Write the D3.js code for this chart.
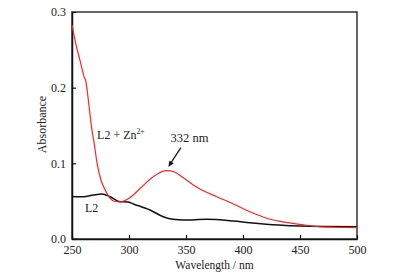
<!DOCTYPE html>
<html>
<head>
<meta charset="utf-8">
<script src="https://cdn.jsdelivr.net/npm/d3@7"></script>
<style>
  body { margin: 0; background: #fff; }
  text { font-family: 'Liberation Serif', 'DejaVu Serif', serif; fill: #222; }
</style>
</head>
<body>
<svg width="394" height="280"></svg>
<script>
// L2 + Zn2+ spectrum (wavelength nm, absorbance)
const redWl = [250, 253.5, 257, 260.5, 262.3, 264, 265.8, 267.5, 269.3, 272, 275.4, 279, 283.3, 287.7, 292, 301, 310, 318.4, 325, 333, 340, 347, 356.4, 365.2, 377, 391.5, 406, 420.8, 432.5, 450, 464.6, 479, 500];
const redAbs = [0.283, 0.257, 0.236, 0.215, 0.207, 0.188, 0.164, 0.144, 0.128, 0.100, 0.078, 0.065, 0.054, 0.0496, 0.049, 0.055, 0.067, 0.079, 0.086, 0.0903, 0.0885, 0.0815, 0.0715, 0.0638, 0.0559, 0.0463, 0.0361, 0.0274, 0.0232, 0.0194, 0.0165, 0.0155, 0.015];

// L2 alone
const blackWl = [250, 259.9, 268.7, 276, 283.3, 292, 299, 303.8, 318.4, 330, 338.9, 347.6, 368, 391.5, 406, 431, 450, 500];
const blackAbs = [0.0563, 0.0559, 0.0581, 0.0595, 0.0559, 0.0493, 0.049, 0.0463, 0.0383, 0.0295, 0.026, 0.0251, 0.026, 0.0238, 0.0216, 0.0185, 0.0172, 0.0163];

const xTicks = [250, 300, 350, 400, 450, 500];
const yTicks = [0, 0.1, 0.2, 0.3];

const svg = d3.select('svg');
const margin = {top: 12, right: 37, bottom: 41, left: 72};
const width = +svg.attr('width');
const height = +svg.attr('height');
const innerWidth = width - margin.left - margin.right;
const innerHeight = height - margin.top - margin.bottom;

const xScale = d3.scaleLinear().domain([250, 500]).range([0, innerWidth]);
const yScale = d3.scaleLinear().domain([0, 0.3]).range([innerHeight, 0]);

const g = svg.append('g')
    .attr('transform', `translate(${margin.left},${margin.top})`);

// frame
g.append('rect')
    .attr('width', innerWidth)
    .attr('height', innerHeight)
    .attr('fill', 'none')
    .attr('stroke', '#333')
    .attr('stroke-width', 1.5);

const xAxis = d3.axisBottom(xScale)
    .tickValues(xTicks)
    .tickFormat(d3.format('d'))
    .tickSizeInner(-4)
    .tickSizeOuter(0)
    .tickPadding(6);

const xAxisG = g.append('g')
    .attr('transform', `translate(0,${innerHeight})`)
    .call(xAxis);
xAxisG.select('.domain').attr('stroke', '#111').attr('stroke-width', 1.5);
xAxisG.selectAll('.tick line').attr('stroke', '#111').attr('stroke-width', 1.2);
xAxisG.selectAll('text').attr('font-size', 12).attr('font-family', 'Liberation Serif').attr('fill', '#222');

const yAxis = d3.axisLeft(yScale)
    .tickValues(yTicks)
    .tickFormat(d3.format('.1f'))
    .tickSizeInner(-4)
    .tickSizeOuter(0)
    .tickPadding(6);

const yAxisG = g.append('g').call(yAxis);
yAxisG.select('.domain').attr('stroke', '#111').attr('stroke-width', 1.5);
yAxisG.selectAll('.tick line').attr('stroke', '#111').attr('stroke-width', 1.2);
yAxisG.selectAll('text').attr('font-size', 12).attr('font-family', 'Liberation Serif').attr('fill', '#222');

// axis titles
g.append('text')
    .attr('x', innerWidth / 2)
    .attr('y', innerHeight + 30)
    .attr('text-anchor', 'middle')
    .attr('font-size', 11.5)
    .text('Wavelength / nm');

g.append('text')
    .attr('transform', `translate(-26,${innerHeight / 2 - 1}) rotate(-90)`)
    .attr('text-anchor', 'middle')
    .attr('font-size', 12)
    .text('Absorbance');

const line = d3.line()
    .x(d => xScale(d[0]))
    .y(d => yScale(d[1]))
    .curve(d3.curveMonotoneX);

g.append('path')
    .datum(blackWl.map((w, i) => [w, blackAbs[i]]))
    .attr('d', line)
    .attr('fill', 'none')
    .attr('stroke', '#111')
    .attr('stroke-width', 1.5);

g.append('path')
    .datum(redWl.map((w, i) => [w, redAbs[i]]))
    .attr('d', line)
    .attr('fill', 'none')
    .attr('stroke', '#f22')
    .attr('stroke-width', 1.2);

// labels
const lab = g.append('text')
    .attr('x', xScale(272))
    .attr('y', yScale(0.1317))
    .attr('font-size', 12)
    .text('L2 + Zn');
lab.append('tspan')
    .attr('font-size', 7.5)
    .attr('dy', -5)
    .text('2+');

g.append('text')
    .attr('x', xScale(261.4))
    .attr('y', yScale(0.0361))
    .attr('font-size', 12)
    .text('L2');

g.append('text')
    .attr('x', xScale(336.5))
    .attr('y', yScale(0.1277))
    .attr('font-size', 12.5)
    .text('332 nm');

// arrow pointing at the peak
const ax1 = xScale(345.5), ay1 = yScale(0.1207);
const ax2 = xScale(334.5), ay2 = yScale(0.0952);
const ang = Math.atan2(ay2 - ay1, ax2 - ax1);
const headLen = 6, headW = 2.6;
const bx = ax2 - headLen * Math.cos(ang), by = ay2 - headLen * Math.sin(ang);

g.append('line')
    .attr('x1', ax1)
    .attr('y1', ay1)
    .attr('x2', bx)
    .attr('y2', by)
    .attr('stroke', '#111')
    .attr('stroke-width', 1.2);

g.append('path')
    .attr('d', `M${ax2},${ay2}` +
        `L${bx + headW * Math.sin(ang)},${by - headW * Math.cos(ang)}` +
        `L${bx - headW * Math.sin(ang)},${by + headW * Math.cos(ang)}Z`)
    .attr('fill', '#111');
</script>
</body>
</html>
